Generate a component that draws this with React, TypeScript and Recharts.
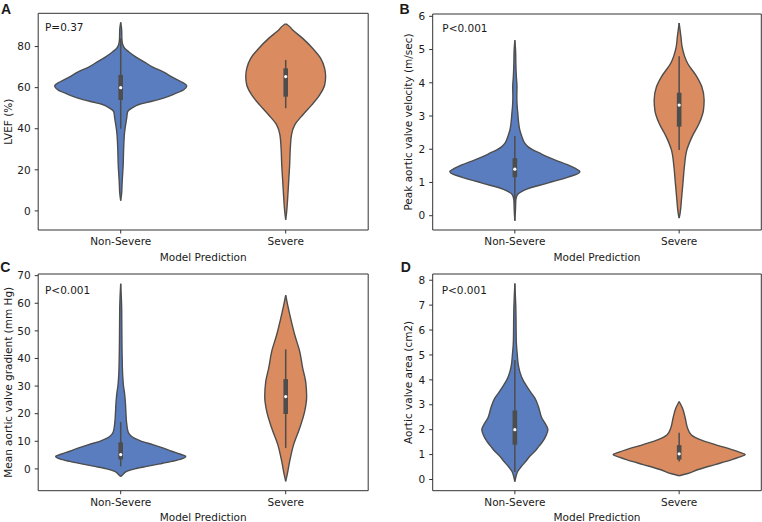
import React from 'react';
import { ComposedChart, Area, XAxis, YAxis, ReferenceLine, ReferenceDot, ReferenceArea, Label } from 'recharts';

const categories = ['Non-Severe', 'Severe'];

// Panel A – LVEF (%)
const aNsY = [5, 8, 14.3, 22.4, 30.5, 38.6, 43.5, 45, 48.3, 50, 51.9, 53, 54.8, 57, 59, 60.8, 63, 65, 67.8, 70, 72.7, 75, 77.5, 79.2, 81, 84, 88, 91.8];
const aNsW = [0, 0.005, 0.009, 0.015, 0.018, 0.024, 0.033, 0.036, 0.042, 0.067, 0.115, 0.17, 0.255, 0.327, 0.382, 0.4, 0.364, 0.315, 0.255, 0.194, 0.139, 0.091, 0.048, 0.024, 0.012, 0.007, 0.006, 0];
const aSY = [-4.3, -0.2, 6.3, 14.4, 22.5, 30.6, 37, 41.9, 46.7, 51.6, 56.5, 61.3, 65.4, 69.4, 74.3, 79.1, 84, 88.1, 90.5, 91];
const aSW = [0, 0.006, 0.012, 0.018, 0.024, 0.028, 0.035, 0.055, 0.103, 0.158, 0.206, 0.236, 0.242, 0.236, 0.212, 0.164, 0.103, 0.042, 0.012, 0];
const aNsBox = [40, 54, 60, 66.2, 84];
const aSBox = [50, 55.6, 65.4, 69.4, 73.5];
const aTicks = [0, 20, 40, 60, 80];

// Panel B – Peak aortic valve velocity (m/sec)
const bNsY = [-0.15, 0.2, 0.48, 0.63, 0.73, 0.8, 0.88, 0.95, 1.03, 1.1, 1.18, 1.25, 1.33, 1.43, 1.53, 1.68, 1.78, 1.88, 1.98, 2.08, 2.2, 2.38, 2.58, 2.8, 3.08, 3.3, 3.58, 3.88, 4.2, 4.58, 4.9, 5.28];
const bNsW = [0, 0.004, 0.006, 0.015, 0.043, 0.073, 0.122, 0.177, 0.231, 0.286, 0.335, 0.377, 0.396, 0.365, 0.323, 0.243, 0.195, 0.152, 0.11, 0.079, 0.058, 0.043, 0.03, 0.023, 0.018, 0.014, 0.012, 0.013, 0.009, 0.006, 0.005, 0];
const bSY = [-0.07, 0.08, 0.48, 0.98, 1.48, 1.98, 2.38, 2.78, 3.18, 3.48, 3.88, 4.18, 4.58, 5.08, 5.38, 5.8];
const bSW = [0, 0.006, 0.014, 0.023, 0.032, 0.047, 0.079, 0.122, 0.148, 0.152, 0.138, 0.108, 0.052, 0.018, 0.011, 0];
const bNsBox = [0.4, 1.16, 1.4, 1.73, 2.4];
const bSBox = [1.98, 2.68, 3.33, 3.7, 4.8];
const bTicks = [0, 1, 2, 3, 4, 5, 6];

// Panel C – Mean aortic valve gradient (mm Hg)
const cNsY = [-2.8, -2.1, -0.9, 0, 0.9, 1.8, 2.7, 3.6, 4.5, 5.4, 6.4, 7.6, 8.8, 10, 11.2, 12.4, 13.6, 17.2, 20, 24.4, 28, 30, 34, 40, 50, 58, 67.1];
const cNsW = [0, 0.012, 0.036, 0.085, 0.158, 0.236, 0.309, 0.37, 0.394, 0.358, 0.309, 0.255, 0.194, 0.127, 0.079, 0.055, 0.044, 0.035, 0.032, 0.028, 0.022, 0.017, 0.012, 0.009, 0.007, 0.006, 0];
const cSY = [-4.5, -2.1, 2.7, 8.8, 14.8, 20.8, 26.2, 31.6, 36.5, 42.5, 48.5, 54.5, 59.3, 62.9];
const cSW = [0, 0.009, 0.024, 0.048, 0.085, 0.115, 0.127, 0.121, 0.103, 0.085, 0.055, 0.03, 0.012, 0];
const cNsBox = [0.9, 3.4, 5.2, 9.6, 17];
const cSBox = [7.6, 19.9, 26.2, 32.5, 43.3];
const cTicks = [0, 10, 20, 30, 40, 50, 60, 70];

// Panel D – Aortic valve area (cm2)
const dNsY = [-0.09, 0.1, 0.33, 0.5, 0.73, 0.93, 1.13, 1.33, 1.53, 1.75, 2.0, 2.2, 2.47, 2.87, 3.27, 3.5, 3.8, 4.0, 4.33, 4.6, 5.0, 5.53, 6.87, 7.87];
const dNsW = [0, 0.006, 0.018, 0.037, 0.067, 0.091, 0.122, 0.146, 0.17, 0.189, 0.201, 0.189, 0.164, 0.146, 0.122, 0.097, 0.067, 0.049, 0.03, 0.021, 0.015, 0.009, 0.006, 0];
const dSY = [0.15, 0.23, 0.4, 0.6, 0.8, 0.9, 1.0, 1.1, 1.2, 1.4, 1.6, 1.8, 2.07, 2.47, 2.87, 3.13];
const dSW = [0, 0.047, 0.116, 0.219, 0.321, 0.365, 0.402, 0.365, 0.321, 0.219, 0.128, 0.073, 0.051, 0.037, 0.02, 0];
const dNsBox = [0.3, 1.4, 2.0, 2.77, 4.8];
const dSBox = [0.72, 0.8, 1.03, 1.38, 1.88];
const dTicks = [0, 1, 2, 3, 4, 5, 6, 7, 8];

const BLUE = '#597dbf';
const ORANGE = '#da8b5f';
const EDGE = '#4d4d4d';
const FRAME = '#333333';
const TEXT = '#1a1a1a';
const FONT = '"DejaVu Sans", sans-serif';

type Violin = { ys: number[]; ws: number[]; box: number[]; color: string };

function rows(ys: number[], ws: number[], center: number) {
  return ys.map((y, i) => ({ y, v: [center - ws[i], center + ws[i]] }));
}

type PanelProps = {
  left: number; top: number; width: number; height: number;
  yAxisWidth: number; marginTop: number; marginRight: number; xAxisHeight: number;
  yDomain: [number, number]; yTicks: number[]; yLabel: string; yLabelOffset: number; xLabelOffset: number;
  violins: Violin[];
};

function Panel(p: PanelProps) {
  const tickStyle = { fontSize: 10.5, fill: TEXT, fontFamily: FONT };
  return (
    <div style={{ position: 'absolute', left: p.left, top: p.top, width: p.width, height: p.height }}>
      <ComposedChart
        width={p.width}
        height={p.height}
        layout="vertical"
        margin={{ top: p.marginTop, right: p.marginRight, bottom: 0, left: 0 }}
      >
        <XAxis
          type="number"
          domain={[-0.5, 1.5]}
          ticks={[0, 1]}
          allowDataOverflow
          interval={0}
          tickFormatter={(v: number) => categories[v]}
          axisLine={false}
          tickLine={{ stroke: FRAME }}
          tickSize={3.5}
          tickMargin={4}
          tick={tickStyle}
          height={p.xAxisHeight}
        >
          <Label value="Model Prediction" position="insideBottom" offset={p.xLabelOffset} style={{ fontSize: 10.5, fill: TEXT, fontFamily: FONT }} />
        </XAxis>
        <YAxis
          type="number"
          dataKey="y"
          reversed
          domain={p.yDomain}
          ticks={p.yTicks}
          allowDataOverflow
          interval={0}
          width={p.yAxisWidth}
          axisLine={false}
          tickLine={{ stroke: FRAME }}
          tickSize={3.5}
          tickMargin={4}
          tick={tickStyle}
        >
          <Label value={p.yLabel} angle={-90} position="insideLeft" offset={p.yLabelOffset} style={{ textAnchor: 'middle', fontSize: 10.5, fill: TEXT, fontFamily: FONT }} />
        </YAxis>
        {p.violins.map((v, i) => (
          <Area
            key={'v' + i}
            data={rows(v.ys, v.ws, i)}
            dataKey="v"
            type="monotone"
            fill={v.color}
            fillOpacity={1}
            stroke={EDGE}
            strokeWidth={1.4}
            dot={false}
            activeDot={false}
            isAnimationActive={false}
          />
        ))}
        <ReferenceArea
          x1={-0.5}
          x2={1.5}
          y1={p.yDomain[0]}
          y2={p.yDomain[1]}
          fill="none"
          fillOpacity={0}
          stroke={FRAME}
          strokeWidth={1}
          ifOverflow="visible"
        />
        {p.violins.map((v, i) => (
          <ReferenceLine
            key={'w' + i}
            segment={[{ x: i, y: v.box[0] }, { x: i, y: v.box[4] }]}
            stroke={EDGE}
            strokeWidth={1.5}
            ifOverflow="visible"
            zIndex={1000}
          />
        ))}
        {p.violins.map((v, i) => (
          <ReferenceLine
            key={'b' + i}
            segment={[{ x: i, y: v.box[1] }, { x: i, y: v.box[3] }]}
            stroke={EDGE}
            strokeWidth={4.6}
            ifOverflow="visible"
            zIndex={1001}
          />
        ))}
        {p.violins.map((v, i) => (
          <ReferenceDot
            key={'m' + i}
            x={i}
            y={v.box[2]}
            r={1.6}
            fill="#ffffff"
            stroke="none"
            ifOverflow="visible"
            zIndex={1002}
          />
        ))}
      </ComposedChart>
    </div>
  );
}

const textAbs = (left: number, top: number, size: number, bold: boolean, family: string): React.CSSProperties => ({
  position: 'absolute',
  left,
  top,
  fontSize: size,
  lineHeight: size <= 11 ? '12px' : '16px',
  fontWeight: bold ? 700 : 400,
  fontFamily: family,
  color: TEXT,
  whiteSpace: 'nowrap',
});

export default function App() {
  return (
    <div style={{ position: 'absolute', left: 0, top: 0, width: 762, height: 522, background: '#ffffff', fontFamily: FONT, overflow: 'hidden' }}>
      <Panel
        left={0} top={0} width={381} height={265}
        yAxisWidth={38.2} marginTop={13.3} marginRight={12.8} xAxisHeight={35}
        yDomain={[-9.3, 96.2]} yTicks={aTicks} yLabel="LVEF (%)" yLabelOffset={8.7} xLabelOffset={4.5}
        violins={[
          { ys: aNsY, ws: aNsW, box: aNsBox, color: BLUE },
          { ys: aSY, ws: aSW, box: aSBox, color: ORANGE },
        ]}
      />
      <Panel
        left={381} top={0} width={381} height={265}
        yAxisWidth={51.7} marginTop={14} marginRight={0.7} xAxisHeight={35}
        yDomain={[-0.43, 6.07]} yTicks={bTicks} yLabel="Peak aortic valve velocity (m/sec)" yLabelOffset={27.7} xLabelOffset={4.5}
        violins={[
          { ys: bNsY, ws: bNsW, box: bNsBox, color: BLUE },
          { ys: bSY, ws: bSW, box: bSBox, color: ORANGE },
        ]}
      />
      <Panel
        left={0} top={261} width={381} height={261}
        yAxisWidth={38.2} marginTop={13} marginRight={12.8} xAxisHeight={31.3}
        yDomain={[-7.9, 70.6]} yTicks={cTicks} yLabel="Mean aortic valve gradient (mm Hg)" yLabelOffset={8.3} xLabelOffset={1.5}
        violins={[
          { ys: cNsY, ws: cNsW, box: cNsBox, color: BLUE },
          { ys: cSY, ws: cSW, box: cSBox, color: ORANGE },
        ]}
      />
      <Panel
        left={381} top={261} width={381} height={261}
        yAxisWidth={51.7} marginTop={13} marginRight={0.7} xAxisHeight={31.3}
        yDomain={[-0.45, 8.25]} yTicks={dTicks} yLabel="Aortic valve area (cm2)" yLabelOffset={27.7} xLabelOffset={1.5}
        violins={[
          { ys: dNsY, ws: dNsW, box: dNsBox, color: BLUE },
          { ys: dSY, ws: dSW, box: dSBox, color: ORANGE },
        ]}
      />
      <div style={textAbs(45, 20.9, 10.5, false, FONT)}>P=0.37</div>
      <div style={textAbs(442.3, 21.7, 10.5, false, FONT)}>P&lt;0.001</div>
      <div style={textAbs(45, 284.4, 10.5, false, FONT)}>P&lt;0.001</div>
      <div style={textAbs(441.7, 283.9, 10.5, false, FONT)}>P&lt;0.001</div>
      <div style={textAbs(1, 0.6, 14, true, '"Liberation Sans", Arial, sans-serif')}>A</div>
      <div style={textAbs(399.5, 1.3, 14, true, '"Liberation Sans", Arial, sans-serif')}>B</div>
      <div style={textAbs(0.3, 259.4, 14, true, '"Liberation Sans", Arial, sans-serif')}>C</div>
      <div style={textAbs(400.7, 259.2, 14, true, '"Liberation Sans", Arial, sans-serif')}>D</div>
    </div>
  );
}
